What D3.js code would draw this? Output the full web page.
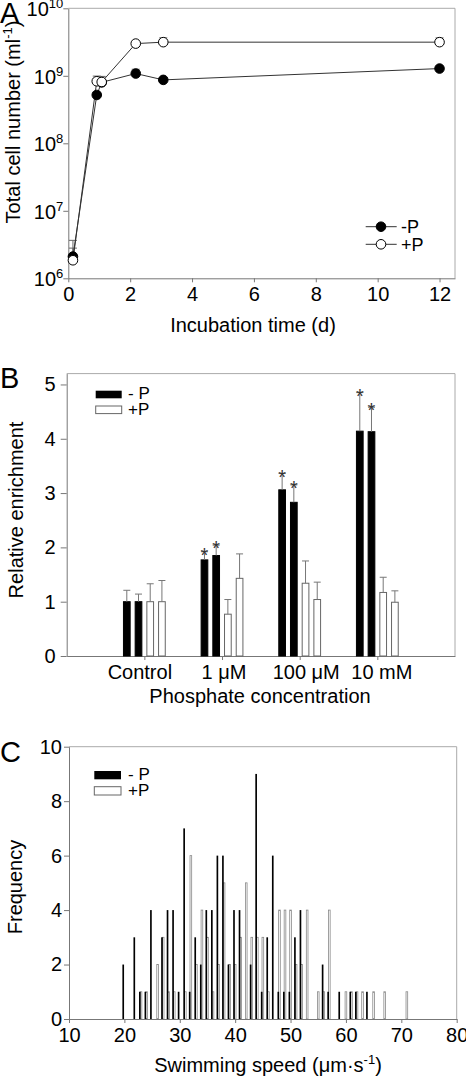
<!DOCTYPE html>
<html><head><meta charset="utf-8">
<script src="https://cdn.jsdelivr.net/npm/d3@7"></script>
<style>body{margin:0;background:#fff}svg{display:block;font-family:"Liberation Sans",Arial,Helvetica,sans-serif}</style>
</head><body><svg id="c" width="466" height="1076"></svg>
<script>
// ---------- Panel A data ----------
const daysMinusP = [0.15, 0.92, 1.08, 2.18, 3.07, 12];
const cellsMinusP = [2.1e6, 5.2e8, 8.0e8, 1.08e9, 8.7e8, 1.28e9];
const errMinusP = [0.7e6, 0.4e8, 0.5e8, 0.17e9, 0.6e8, 0.1e9];
const daysPlusP = [0.15, 0.92, 1.08, 2.18, 3.07, 12];
const cellsPlusP = [1.85e6, 8.3e8, 8.1e8, 3.0e9, 3.15e9, 3.15e9];
const errPlusP = [1.8e6, 1.6e8, 1.7e8, 0.2e9, 0.5e9, 0.5e9];
const timeTicks = [0, 2, 4, 6, 8, 10, 12];
const cellTicks = [1e6, 1e7, 1e8, 1e9, 1e10];

// ---------- Panel B data ----------
const concLabels = ["Control", "1 μM", "100 μM", "10 mM"];
const barSeries = ["-P", "-P", "+P", "+P"];
const enrichValues = [[1.0, 1.0, 1.0, 1.0], [1.77, 1.85, 0.77, 1.43], [3.06, 2.83, 1.34, 1.04], [4.14, 4.13, 1.17, 0.99]];
const enrichErrors = [[0.21, 0.14, 0.33, 0.39], [0.15, 0.19, 0.27, 0.45], [0.30, 0.32, 0.41, 0.32], [0.71, 0.45, 0.28, 0.21]];
const significant = [[0, 0, 0, 0], [1, 1, 0, 0], [1, 1, 0, 0], [1, 1, 0, 0]];
const enrichTicks = [0, 1, 2, 3, 4, 5];

// ---------- Panel C data ----------
const speeds = [20,21,22,23,24,25,26,27,28,29,30,31,32,33,34,35,36,37,38,39,40,41,42,43,44,45,46,47,48,49,50,51,52,53,54,55,56,57,58,59,60,61,62,63,64,65,66,67,68,69,70,71];
const freqMinusP = [2,0,3,1,1,4,0,3,4,4,1,7,1,3,2,4,4,6,6,2,4,4,0,2,9,1,3,6,1,1,1,3,4,0,0,0,2,1,0,1,0,1,1,0,1,0,0,0,0,0,0,0];
const freqPlusP  = [0,0,0,1,1,0,2,3,1,1,0,1,6,2,4,3,1,2,5,2,2,3,5,3,3,3,1,0,4,4,4,2,2,4,0,1,1,4,0,0,1,1,1,1,0,1,0,1,0,0,0,1];
const speedTicks = [10, 20, 30, 40, 50, 60, 70, 80];
const freqTicks = [0, 2, 4, 6, 8, 10];

const svg = d3.select("#c");
const AX = "#777", FR = "#aaa";

function styleAxis(g) {
  g.select(".domain").attr("stroke", AX);
  g.selectAll(".tick line").attr("stroke", AX);
  g.selectAll(".tick text").attr("fill", "#000").attr("font-size", 20);
}
function frame(x0, x1, y0, y1) {
  svg.append("line").attr("x1", x0).attr("x2", x1).attr("y1", y0).attr("y2", y0).attr("stroke", FR);
  svg.append("line").attr("x1", x1).attr("x2", x1).attr("y1", y0).attr("y2", y1).attr("stroke", FR);
}
function panelLabel(t, x, y) {
  svg.append("text").attr("x", x).attr("y", y).attr("font-size", 29).text(t);
}

// ================= Panel A =================
{
  const x = d3.scaleLinear().domain([0, 12.5]).range([68.3, 455]);
  const y = d3.scaleLog().domain([1e6, 1e10]).range([278.3, 8.3]);
  frame(68.3, 455, 8.3, 278.3);
  const gx = svg.append("g").attr("transform", "translate(0,278.3)")
    .call(d3.axisBottom(x).tickValues(timeTicks).tickSize(4).tickSizeOuter(0).tickFormat(d3.format("d")));
  styleAxis(gx);
  gx.selectAll(".tick text").attr("y", 9);
  const gy = svg.append("g").attr("transform", "translate(68.3,0)")
    .call(d3.axisLeft(y).tickValues(cellTicks).tickSize(5).tickSizeOuter(0));
  styleAxis(gy);
  gy.selectAll(".tick text").each(function (d) {
    const t = d3.select(this);
    t.text("").attr("x", -5).attr("dy", "0.38em");
    t.append("tspan").text("10");
    t.append("tspan").attr("dy", -8).attr("font-size", 13).text(Math.round(Math.log10(d)));
  });
  svg.append("text").attr("x", 253).attr("y", 332).attr("text-anchor", "middle").attr("font-size", 20).text("Incubation time (d)");
  const yt = svg.append("text").attr("transform", "translate(20,122) rotate(-90)").attr("text-anchor", "middle").attr("font-size", 20);
  yt.append("tspan").text("Total cell number (ml");
  yt.append("tspan").attr("dy", -8).attr("font-size", 13).text("-1");
  yt.append("tspan").attr("dy", 8).text(")");

  const series = [
    { d: daysMinusP, v: cellsMinusP, e: errMinusP, fill: "#000" },
    { d: daysPlusP, v: cellsPlusP, e: errPlusP, fill: "#fff" }
  ];
  series.forEach(s => {
    s.d.forEach((dd, i) => {
      const xx = x(dd), y0 = y(s.v[i]), y1 = y(s.v[i] + s.e[i]);
      svg.append("line").attr("x1", xx).attr("x2", xx).attr("y1", y0).attr("y2", y1).attr("stroke", "#666");
      svg.append("line").attr("x1", xx - 4).attr("x2", xx + 4).attr("y1", y1).attr("y2", y1).attr("stroke", "#666");
    });
  });
  series.forEach(s => {
    const pts = s.d.map((dd, i) => [x(dd), y(s.v[i])]);
    svg.append("path").attr("d", d3.line()(pts)).attr("fill", "none").attr("stroke", "#333").attr("stroke-width", 1);
  });
  series.forEach(s => {
    s.d.forEach((dd, i) => {
      svg.append("circle").attr("cx", x(dd)).attr("cy", y(s.v[i])).attr("r", 4.8)
        .attr("fill", s.fill).attr("stroke", "#000").attr("stroke-width", 1);
    });
  });
  // legend
  [["-P", "#000", 226.7], ["+P", "#fff", 244.3]].forEach(([lab, f, yy]) => {
    svg.append("line").attr("x1", 365.7).attr("x2", 396.7).attr("y1", yy).attr("y2", yy).attr("stroke", "#333");
    svg.append("circle").attr("cx", 381).attr("cy", yy).attr("r", 4.8).attr("fill", f).attr("stroke", "#000");
    svg.append("text").attr("x", 401).attr("y", yy + 6.5).attr("font-size", 18).text(lab);
  });
  panelLabel("A", 0, 23);
}

// ================= Panel B =================
{
  const x = d3.scaleLinear().domain([0, 5]).range([66.7, 455]);
  const y = d3.scaleLinear().domain([0, 5.2]).range([656, 373.6]);
  const offs = [-1.5, -0.5, 0.5, 1.5];
  const labelShift = [-5, 1.5, 6, 4];
  const bw = 6.7;
  frame(66.7, 455, 373.6, 656);
  const gx = svg.append("g").attr("transform", "translate(0,656)")
    .call(d3.axisBottom(x).tickValues([1, 2, 3, 4]).tickSize(4).tickSizeOuter(0).tickFormat(i => concLabels[i - 1]));
  styleAxis(gx);
  gx.selectAll(".tick text").attr("y", 9).attr("dx", (d) => labelShift[d - 1]);
  const gy = svg.append("g").attr("transform", "translate(66.7,0)")
    .call(d3.axisLeft(y).tickValues(enrichTicks).tickSize(6).tickSizeOuter(0).tickFormat(d3.format("d")));
  styleAxis(gy);
  gy.selectAll(".tick text").attr("x", -11);
  svg.append("text").attr("x", 260).attr("y", 703).attr("text-anchor", "middle").attr("font-size", 20).text("Phosphate concentration");
  svg.append("text").attr("transform", "translate(23,510) rotate(-90)").attr("text-anchor", "middle").attr("font-size", 20).text("Relative enrichment");

  enrichValues.forEach((grp, gi) => {
    grp.forEach((v, bi) => {
      const cx = x(gi + 1) + offs[bi] * 11.7;
      const neg = barSeries[bi] === "-P";
      svg.append("rect").attr("x", cx - bw / 2).attr("y", y(v)).attr("width", bw).attr("height", y(0) - y(v))
        .attr("fill", neg ? "#000" : "#fff").attr("stroke", neg ? "#000" : "#666").attr("stroke-width", 1);
      const ye = y(v + enrichErrors[gi][bi]);
      svg.append("line").attr("x1", cx).attr("x2", cx).attr("y1", y(v)).attr("y2", ye).attr("stroke", "#777");
      svg.append("line").attr("x1", cx - 3.5).attr("x2", cx + 3.5).attr("y1", ye).attr("y2", ye).attr("stroke", "#777");
      if (significant[gi][bi]) {
        svg.append("text").attr("x", cx).attr("y", ye + 10).attr("text-anchor", "middle").attr("font-size", 20).attr("fill", "#333").text("*");
      }
    });
  });
  // legend
  svg.append("rect").attr("x", 95.7).attr("y", 390.7).attr("width", 26).attr("height", 7.6).attr("fill", "#000");
  svg.append("rect").attr("x", 95.7).attr("y", 406).attr("width", 26).attr("height", 7.6).attr("fill", "#fff").attr("stroke", "#666");
  svg.append("text").attr("x", 128).attr("y", 398.5).attr("font-size", 17).text("- P");
  svg.append("text").attr("x", 128).attr("y", 415).attr("font-size", 17).text("+P");
  panelLabel("B", 0, 388);
}

// ================= Panel C =================
{
  const x = d3.scaleLinear().domain([10, 80]).range([69, 456.7]);
  const y = d3.scaleLinear().domain([0, 10]).range([1019, 746.7]);
  const w = x(10.3) - x(10);
  frame(69, 456.7, 746.7, 1019);
  speeds.forEach((s, i) => {
    if (freqPlusP[i] > 0) {
      svg.append("rect").attr("x", x(s - 0.15)).attr("y", y(freqPlusP[i])).attr("width", w).attr("height", y(0) - y(freqPlusP[i]))
        .attr("fill", "#fff").attr("stroke", "#888").attr("stroke-width", 0.8);
    }
    if (freqMinusP[i] > 0) {
      svg.append("rect").attr("x", x(s - 0.36)).attr("y", y(freqMinusP[i])).attr("width", w).attr("height", y(0) - y(freqMinusP[i]))
        .attr("fill", "#000");
    }
  });
  const gx = svg.append("g").attr("transform", "translate(0,1019)")
    .call(d3.axisBottom(x).tickValues(speedTicks).tickSize(4).tickSizeOuter(0).tickFormat(d3.format("d")));
  styleAxis(gx);
  gx.selectAll(".tick text").attr("y", 9);
  const gy = svg.append("g").attr("transform", "translate(69,0)")
    .call(d3.axisLeft(y).tickValues(freqTicks).tickSize(5).tickSizeOuter(0).tickFormat(d3.format("d")));
  styleAxis(gy);
  gy.selectAll(".tick text").attr("x", -7);
  const xt = svg.append("text").attr("x", 268).attr("y", 1072).attr("text-anchor", "middle").attr("font-size", 20);
  xt.append("tspan").text("Swimming speed (μm·s");
  xt.append("tspan").attr("dy", -8).attr("font-size", 13).text("-1");
  xt.append("tspan").attr("dy", 8).text(")");
  svg.append("text").attr("transform", "translate(22,887) rotate(-90)").attr("text-anchor", "middle").attr("font-size", 20).text("Frequency");
  svg.append("rect").attr("x", 94.3).attr("y", 771).attr("width", 26.7).attr("height", 8.3).attr("fill", "#000");
  svg.append("rect").attr("x", 94.3).attr("y", 786.7).attr("width", 26.7).attr("height", 8.3).attr("fill", "#fff").attr("stroke", "#666");
  svg.append("text").attr("x", 128).attr("y", 780).attr("font-size", 17).text("- P");
  svg.append("text").attr("x", 128).attr("y", 795.5).attr("font-size", 17).text("+P");
  panelLabel("C", 0, 762);
}
</script></body></html>
